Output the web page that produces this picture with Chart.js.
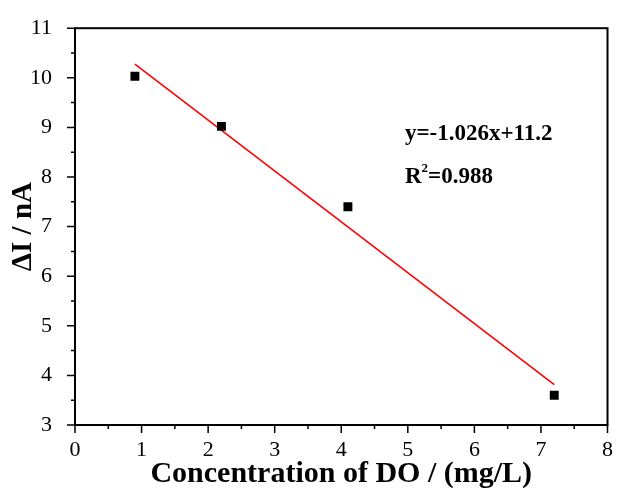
<!DOCTYPE html>
<html>
<head>
<meta charset="utf-8">
<script src="https://cdn.jsdelivr.net/npm/chart.js@4/dist/chart.umd.min.js"></script>
<style>
  html, body { margin: 0; padding: 0; background: #fff; }
  #wrap { width: 617px; height: 488px; }
</style>
</head>
<body>
<div id="wrap"><canvas id="chart" width="617" height="488"></canvas></div>
<script>
// measured points
const concentration = [0.9, 2.2, 4.1, 7.2];
const deltaI = [10.03, 9.02, 7.4, 3.6];

// linear fit y = slope*x + intercept
const slope = -1.026;
const intercept = 11.2;
const fitRange = [0.9, 7.2];
const fitText = ["y=-1.026x+11.2", "R", "2", "=0.988"];

const xTicks = [0, 1, 2, 3, 4, 5, 6, 7, 8];
const yTicks = [3, 4, 5, 6, 7, 8, 9, 10, 11];

const serif = "'Liberation Serif', 'Times New Roman', serif";

const fitPoints = fitRange.map((x) => ({ x: x, y: slope * x + intercept }));
const dataPoints = concentration.map((x, i) => ({ x: x, y: deltaI[i] }));

// frame, minor ticks and fit equation
const framePlugin = {
  id: "frame",
  afterDraw(chart) {
    const { ctx, chartArea: a, scales } = chart;
    ctx.save();
    ctx.strokeStyle = "#000";
    ctx.lineWidth = 2;
    ctx.strokeRect(a.left, a.top, a.right - a.left, a.bottom - a.top);

    ctx.lineWidth = 1.5;
    ctx.beginPath();
    for (let v = xTicks[0]; v <= xTicks[xTicks.length - 1]; v += 0.5) {
      const px = scales.x.getPixelForValue(v);
      const len = Number.isInteger(v) ? 8 : 4;
      ctx.moveTo(px, a.bottom);
      ctx.lineTo(px, a.bottom + len);
    }
    for (let v = yTicks[0]; v <= yTicks[yTicks.length - 1]; v += 0.5) {
      const py = scales.y.getPixelForValue(v);
      const len = Number.isInteger(v) ? 8 : 4;
      ctx.moveTo(a.left, py);
      ctx.lineTo(a.left - len, py);
    }
    ctx.stroke();

    ctx.fillStyle = "#000";
    ctx.textBaseline = "alphabetic";
    ctx.font = "bold 23px " + serif;
    ctx.fillText(fitText[0], 405, 140);
    let x = 405;
    ctx.fillText(fitText[1], x, 183);
    x += ctx.measureText(fitText[1]).width;
    ctx.font = "bold 13px " + serif;
    ctx.fillText(fitText[2], x, 172);
    x += ctx.measureText(fitText[2]).width;
    ctx.font = "bold 23px " + serif;
    ctx.fillText(fitText[3], x, 183);
    ctx.restore();
  },
};

new Chart(document.getElementById("chart"), {
  type: "scatter",
  data: {
    datasets: [
      {
        label: "data",
        data: dataPoints,
        pointStyle: "rect",
        pointRadius: 6.3,
        pointHoverRadius: 6.3,
        backgroundColor: "#000",
        borderColor: "#000",
        borderWidth: 0,
      },
      {
        label: "fit",
        data: fitPoints,
        showLine: true,
        pointRadius: 0,
        borderColor: "#ff0000",
        borderWidth: 1.6,
        fill: false,
      },
    ],
  },
  options: {
    responsive: false,
    animation: false,
    layout: { padding: { top: 25, right: 5, left: 0, bottom: 0 } },
    plugins: {
      legend: { display: false },
      tooltip: { enabled: false },
    },
    scales: {
      x: {
        type: "linear",
        min: 0,
        max: 8,
        afterFit: (s) => { s.height = 63; },
        afterBuildTicks: (s) => { s.ticks = xTicks.map((v) => ({ value: v })); },
        grid: { display: false },
        border: { display: false },
        ticks: {
          color: "#000",
          font: { family: serif, size: 22 },
          padding: 4,
          maxRotation: 0,
        },
        title: {
          display: true,
          text: "Concentration of DO / (mg/L)",
          color: "#000",
          font: { family: serif, size: 30, weight: "bold", lineHeight: 0.9 },
          padding: { top: 0, bottom: 0 },
        },
      },
      y: {
        type: "linear",
        min: 3,
        max: 11,
        afterFit: (s) => { s.width = 75; },
        afterBuildTicks: (s) => { s.ticks = yTicks.map((v) => ({ value: v })); },
        grid: { display: false },
        border: { display: false },
        ticks: {
          color: "#000",
          font: { family: serif, size: 22 },
          padding: 15,
        },
        title: {
          display: true,
          text: "ΔI / nA",
          color: "#000",
          font: { family: serif, size: 29, weight: "bold" },
          padding: { top: 6, bottom: 0 },
        },
      },
    },
  },
  plugins: [framePlugin],
});
</script>
</body>
</html>
